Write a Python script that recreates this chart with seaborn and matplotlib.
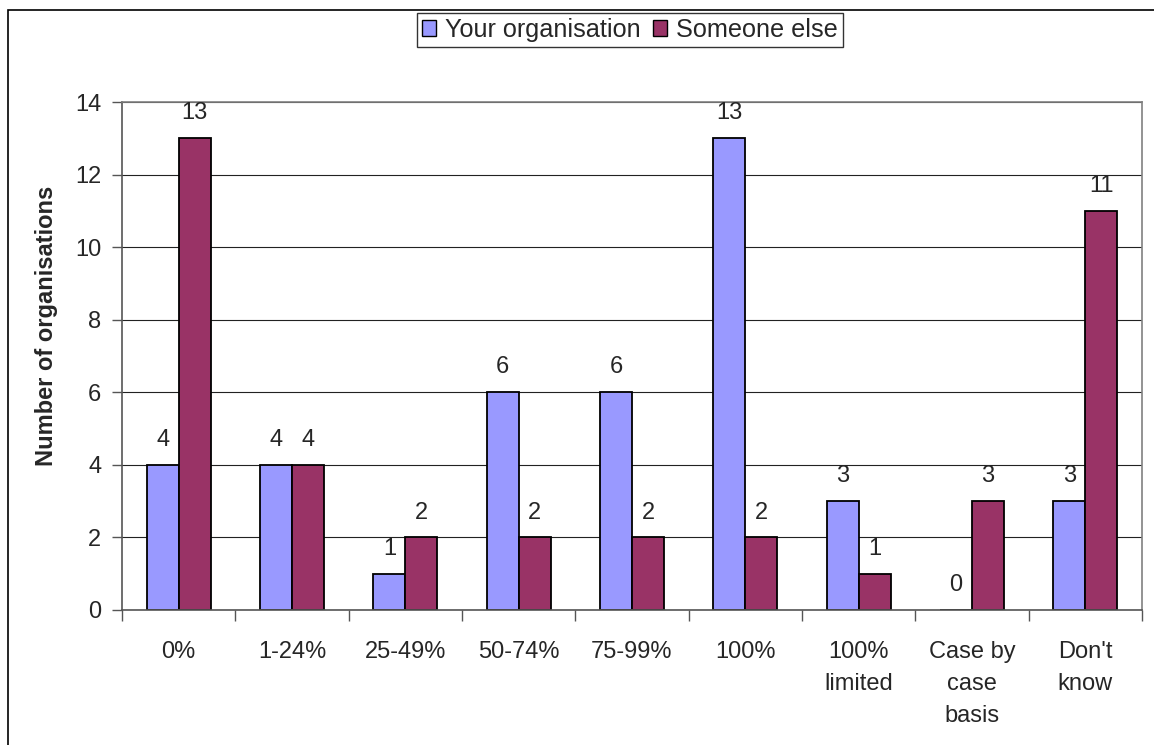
import numpy as np
import pandas as pd
import matplotlib
matplotlib.use('Agg')
import matplotlib.pyplot as plt
import matplotlib.patches as mpatches
import seaborn as sns

# datos del grafico
categories = ['0%', '1-24%', '25-49%', '50-74%', '75-99%', '100%',
              '100%\nlimited', 'Case by\ncase\nbasis', "Don't\nknow"]
your_org = [4, 4, 1, 6, 6, 13, 3, 0, 3]
someone_else = [13, 4, 2, 2, 2, 2, 1, 3, 11]
series_names = ['Your organisation', 'Someone else']
colors = ['#9999FF', '#993366']

df = pd.DataFrame({
    'cat': categories * 2,
    'val': your_org + someone_else,
    'series': [series_names[0]] * len(categories) + [series_names[1]] * len(categories),
})

sns.set_style('white')
plt.rcParams['font.family'] = ['Liberation Sans', 'DejaVu Sans']

fig = plt.figure(figsize=(11.54, 7.45), dpi=100)
ax = fig.add_axes([122 / 1154, 1 - 610 / 745, (1142 - 122) / 1154, (610 - 102) / 745])

sns.barplot(data=df, x='cat', y='val', hue='series', palette=colors,
            width=0.565, gap=0, edgecolor='black', linewidth=1.3,
            saturation=1, ax=ax, legend=False)

for cont in ax.containers:
    ax.bar_label(cont, padding=10, fontsize=17)

ax.set_ylim(0, 14)
ax.set_yticks(np.arange(0, 15, 2))
ax.set_xlim(-0.5, len(categories) - 0.5)
ax.yaxis.grid(True, color='#222222', linewidth=0.8)
ax.set_axisbelow(True)

for s in ['top', 'right']:
    ax.spines[s].set_color('#808080')
    ax.spines[s].set_linewidth(1.2)
for s in ['left', 'bottom']:
    ax.spines[s].set_color('#555555')
    ax.spines[s].set_linewidth(1.2)

ax.set_xlabel('')
ax.set_ylabel('Number of organisations', fontsize=17, fontweight='bold')
ax.yaxis.set_label_coords(-0.063, 0.56)
ax.tick_params(axis='y', length=7, width=1, color='#555555', labelsize=17, pad=8, left=True)
ax.tick_params(axis='x', which='major', length=0, labelsize=17, pad=22)
for lbl in ax.get_xticklabels():
    lbl.set_linespacing(1.6)
ax.set_xticks(np.arange(-0.5, len(categories), 1), minor=True)
ax.tick_params(axis='x', which='minor', length=8, width=1, color='#555555', bottom=True)

handles = [mpatches.Patch(facecolor=c, edgecolor='black', linewidth=1) for c in colors]
fig.legend(handles, series_names, loc='center', bbox_to_anchor=(630 / 1154, 1 - 30 / 745),
           ncol=2, fontsize=18.2, frameon=True, fancybox=False, edgecolor='black',
           handlelength=0.55, handleheight=0.55, handletextpad=0.35, columnspacing=0.5,
           borderpad=0.2, borderaxespad=0)

# borde exterior del grafico
fig.patches.append(mpatches.Rectangle((8 / 1154, -0.1), 1.2, 1 - 10 / 745 + 0.1,
                                      transform=fig.transFigure, fill=False,
                                      edgecolor='black', linewidth=1.2))

fig.savefig('out.png', dpi=100)
